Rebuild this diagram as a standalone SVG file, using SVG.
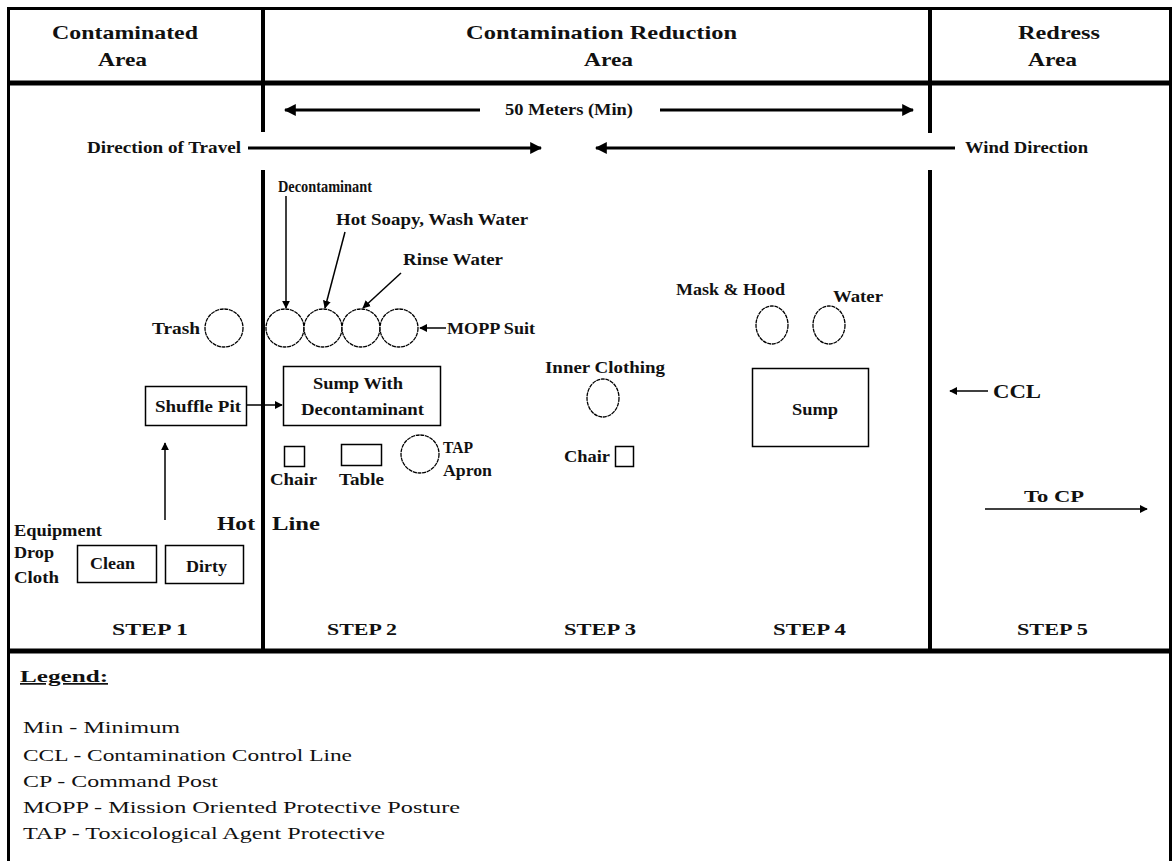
<svg xmlns="http://www.w3.org/2000/svg" width="1173" height="861" viewBox="0 0 1173 861" font-family="'Liberation Serif','Times New Roman',serif">
<style>
text{font-family:"Liberation Serif","Times New Roman",serif;fill:#111}
.b{font-weight:bold;font-size:16px}
.h{font-weight:bold;font-size:19px}
.s{font-weight:bold;font-size:19px}
.st{font-weight:bold;font-size:17px}
.lg{font-size:17px}
.frame{stroke:#000;fill:none}
.thin{stroke:#000;stroke-width:1.5;fill:none}
.c{stroke:#000;stroke-width:1.3;fill:#fff;stroke-dasharray:4 0.7}
.con{stroke:#000;stroke-width:1.5;fill:none}
.con3{stroke:#000;stroke-width:3;fill:none}
</style>
<defs>
<marker id="ah" viewBox="0 0 10 10" refX="9" refY="5" markerWidth="8" markerHeight="8" markerUnits="userSpaceOnUse" orient="auto"><path d="M0,0 L10,5 L0,10 z" fill="#000"/></marker>
<marker id="ahb" viewBox="0 0 10 10" refX="9" refY="5" markerWidth="4" markerHeight="4" orient="auto"><path d="M0,0 L10,5 L0,10 z" fill="#000"/></marker>
</defs>
<rect width="1173" height="861" fill="#fff"/>
<g id="frame">
<rect x="8.5" y="8.5" width="1162" height="860" class="frame" stroke-width="3"/>
<line x1="8" y1="83" x2="1171" y2="83" class="frame" stroke-width="5"/>
<line x1="8" y1="651" x2="1171" y2="651" class="frame" stroke-width="5"/>
<line x1="263" y1="8" x2="263" y2="132" class="frame" stroke-width="4"/>
<line x1="263" y1="170" x2="263" y2="651" class="frame" stroke-width="4"/>
<line x1="930" y1="8" x2="930" y2="133" class="frame" stroke-width="4"/>
<line x1="930" y1="170" x2="930" y2="651" class="frame" stroke-width="4"/>
</g>
<g id="headers">
<text class="s" x="52" y="39" textLength="146" lengthAdjust="spacingAndGlyphs">Contaminated</text>
<text class="s" x="98" y="66" textLength="49" lengthAdjust="spacingAndGlyphs">Area</text>
<text class="s" x="466" y="39" textLength="271" lengthAdjust="spacingAndGlyphs">Contamination Reduction</text>
<text class="s" x="584" y="66" textLength="49" lengthAdjust="spacingAndGlyphs">Area</text>
<text class="s" x="1018" y="39" textLength="82" lengthAdjust="spacingAndGlyphs">Redress</text>
<text class="s" x="1028" y="66" textLength="49" lengthAdjust="spacingAndGlyphs">Area</text>
</g>
<g id="connectors">
<line x1="480" y1="110" x2="285" y2="110" class="con3" marker-end="url(#ahb)"/>
<line x1="660" y1="110" x2="913" y2="110" class="con3" marker-end="url(#ahb)"/>
<line x1="248" y1="148" x2="541" y2="148" class="con3" marker-end="url(#ahb)"/>
<line x1="955" y1="148" x2="596" y2="148" class="con3" marker-end="url(#ahb)"/>
<line x1="286" y1="196" x2="286" y2="308" class="con" marker-end="url(#ah)"/>
<line x1="345" y1="232" x2="325" y2="308" class="con" marker-end="url(#ah)"/>
<line x1="401" y1="273" x2="363" y2="308" class="con" marker-end="url(#ah)"/>
<line x1="446" y1="328" x2="420" y2="328" class="con" marker-end="url(#ah)"/>
<line x1="246" y1="405" x2="282" y2="405" class="con" marker-end="url(#ah)"/>
<line x1="165" y1="520" x2="165" y2="443" class="con" marker-end="url(#ah)"/>
<line x1="988" y1="391" x2="950" y2="391" class="con" stroke-width="2" marker-end="url(#ah)"/>
<line x1="985" y1="509" x2="1147" y2="509" class="con" marker-end="url(#ah)"/>
</g>
<g id="labels-top">
<text class="b" x="505" y="115" textLength="128" lengthAdjust="spacingAndGlyphs">50 Meters (Min)</text>
<text class="b" x="87" y="153" textLength="154" lengthAdjust="spacingAndGlyphs">Direction of Travel</text>
<text class="b" x="965" y="153" textLength="123" lengthAdjust="spacingAndGlyphs">Wind Direction</text>
</g>
<g id="step2">
<text class="b" x="278" y="192" textLength="94" lengthAdjust="spacingAndGlyphs">Decontaminant</text>
<text class="b" x="336" y="225" textLength="192" lengthAdjust="spacingAndGlyphs">Hot Soapy, Wash Water</text>
<text class="b" x="403" y="265" textLength="100" lengthAdjust="spacingAndGlyphs">Rinse Water</text>
<text class="b" x="152" y="334" textLength="48" lengthAdjust="spacingAndGlyphs">Trash</text>
<circle cx="224" cy="328" r="19" class="c"/>
<circle cx="285" cy="328" r="19" class="c"/>
<circle cx="323" cy="328" r="19" class="c"/>
<circle cx="361" cy="328" r="19" class="c"/>
<circle cx="399" cy="328" r="19" class="c"/>
<text class="b" x="447" y="334" textLength="88" lengthAdjust="spacingAndGlyphs">MOPP Suit</text>
<rect x="283.5" y="366.5" width="157" height="59" class="thin"/>
<text class="b" x="313" y="389" textLength="90" lengthAdjust="spacingAndGlyphs">Sump With</text>
<text class="b" x="301" y="415" textLength="123" lengthAdjust="spacingAndGlyphs">Decontaminant</text>
<rect x="284.5" y="446.5" width="20" height="20" class="thin"/>
<text class="b" x="270" y="485" textLength="47" lengthAdjust="spacingAndGlyphs">Chair</text>
<rect x="341.5" y="444.5" width="40" height="21" class="thin"/>
<text class="b" x="339" y="485" textLength="45" lengthAdjust="spacingAndGlyphs">Table</text>
<circle cx="420" cy="454" r="19" class="c"/>
<text class="b" x="443" y="453" textLength="30" lengthAdjust="spacingAndGlyphs">TAP</text>
<text class="b" x="443" y="476" textLength="49" lengthAdjust="spacingAndGlyphs">Apron</text>
<text class="h" x="272" y="530" textLength="48" lengthAdjust="spacingAndGlyphs">Line</text>
</g>
<g id="step1">
<rect x="145.5" y="386.5" width="101" height="39" class="thin"/>
<text class="b" x="155" y="412" textLength="86" lengthAdjust="spacingAndGlyphs">Shuffle Pit</text>
<text class="h" x="217" y="530" textLength="38" lengthAdjust="spacingAndGlyphs">Hot</text>
<text class="b" x="14" y="536" textLength="88" lengthAdjust="spacingAndGlyphs">Equipment</text>
<text class="b" x="14" y="558" textLength="40" lengthAdjust="spacingAndGlyphs">Drop</text>
<text class="b" x="14" y="583" textLength="45" lengthAdjust="spacingAndGlyphs">Cloth</text>
<rect x="77.5" y="545.5" width="79" height="37" class="thin"/>
<text class="b" x="90" y="569" textLength="45" lengthAdjust="spacingAndGlyphs">Clean</text>
<rect x="165.5" y="545.5" width="78" height="38" class="thin"/>
<text class="b" x="186" y="572" textLength="41" lengthAdjust="spacingAndGlyphs">Dirty</text>
</g>
<g id="step3">
<text class="b" x="545" y="373" textLength="120" lengthAdjust="spacingAndGlyphs">Inner Clothing</text>
<ellipse cx="603" cy="398" rx="16" ry="19" class="c"/>
<text class="b" x="564" y="462" textLength="46" lengthAdjust="spacingAndGlyphs">Chair</text>
<rect x="615.5" y="446.5" width="18" height="20" class="thin"/>
</g>
<g id="step4">
<text class="b" x="676" y="295" textLength="109" lengthAdjust="spacingAndGlyphs">Mask &amp; Hood</text>
<text class="b" x="833" y="302" textLength="50" lengthAdjust="spacingAndGlyphs">Water</text>
<ellipse cx="772" cy="325" rx="16" ry="19" class="c"/>
<ellipse cx="829" cy="325" rx="16" ry="19" class="c"/>
<rect x="752.5" y="368.5" width="116" height="78" class="thin"/>
<text class="b" x="792" y="415" textLength="46" lengthAdjust="spacingAndGlyphs">Sump</text>
</g>
<g id="step5">
<text class="h" x="993" y="398" font-size="20" textLength="48" lengthAdjust="spacingAndGlyphs">CCL</text>
<text class="st" x="1024" y="502" textLength="60" lengthAdjust="spacingAndGlyphs">To CP</text>
</g>
<g id="steps">
<text class="st" x="112" y="635" textLength="76" lengthAdjust="spacingAndGlyphs">STEP 1</text>
<text class="st" x="327" y="635" textLength="70" lengthAdjust="spacingAndGlyphs">STEP 2</text>
<text class="st" x="564" y="635" textLength="72" lengthAdjust="spacingAndGlyphs">STEP 3</text>
<text class="st" x="773" y="635" textLength="73" lengthAdjust="spacingAndGlyphs">STEP 4</text>
<text class="st" x="1017" y="635" textLength="71" lengthAdjust="spacingAndGlyphs">STEP 5</text>
</g>
<g id="legend">
<text class="st" x="20" y="682" textLength="88" lengthAdjust="spacingAndGlyphs" text-decoration="underline">Legend:</text>
<text class="lg" x="23" y="733" textLength="157" lengthAdjust="spacingAndGlyphs">Min - Minimum</text>
<text class="lg" x="23" y="761" textLength="329" lengthAdjust="spacingAndGlyphs">CCL - Contamination Control Line</text>
<text class="lg" x="23" y="787" textLength="195" lengthAdjust="spacingAndGlyphs">CP - Command Post</text>
<text class="lg" x="23" y="813" textLength="437" lengthAdjust="spacingAndGlyphs">MOPP - Mission Oriented Protective Posture</text>
<text class="lg" x="23" y="839" textLength="362" lengthAdjust="spacingAndGlyphs">TAP - Toxicological Agent Protective</text>
</g>
</svg>
